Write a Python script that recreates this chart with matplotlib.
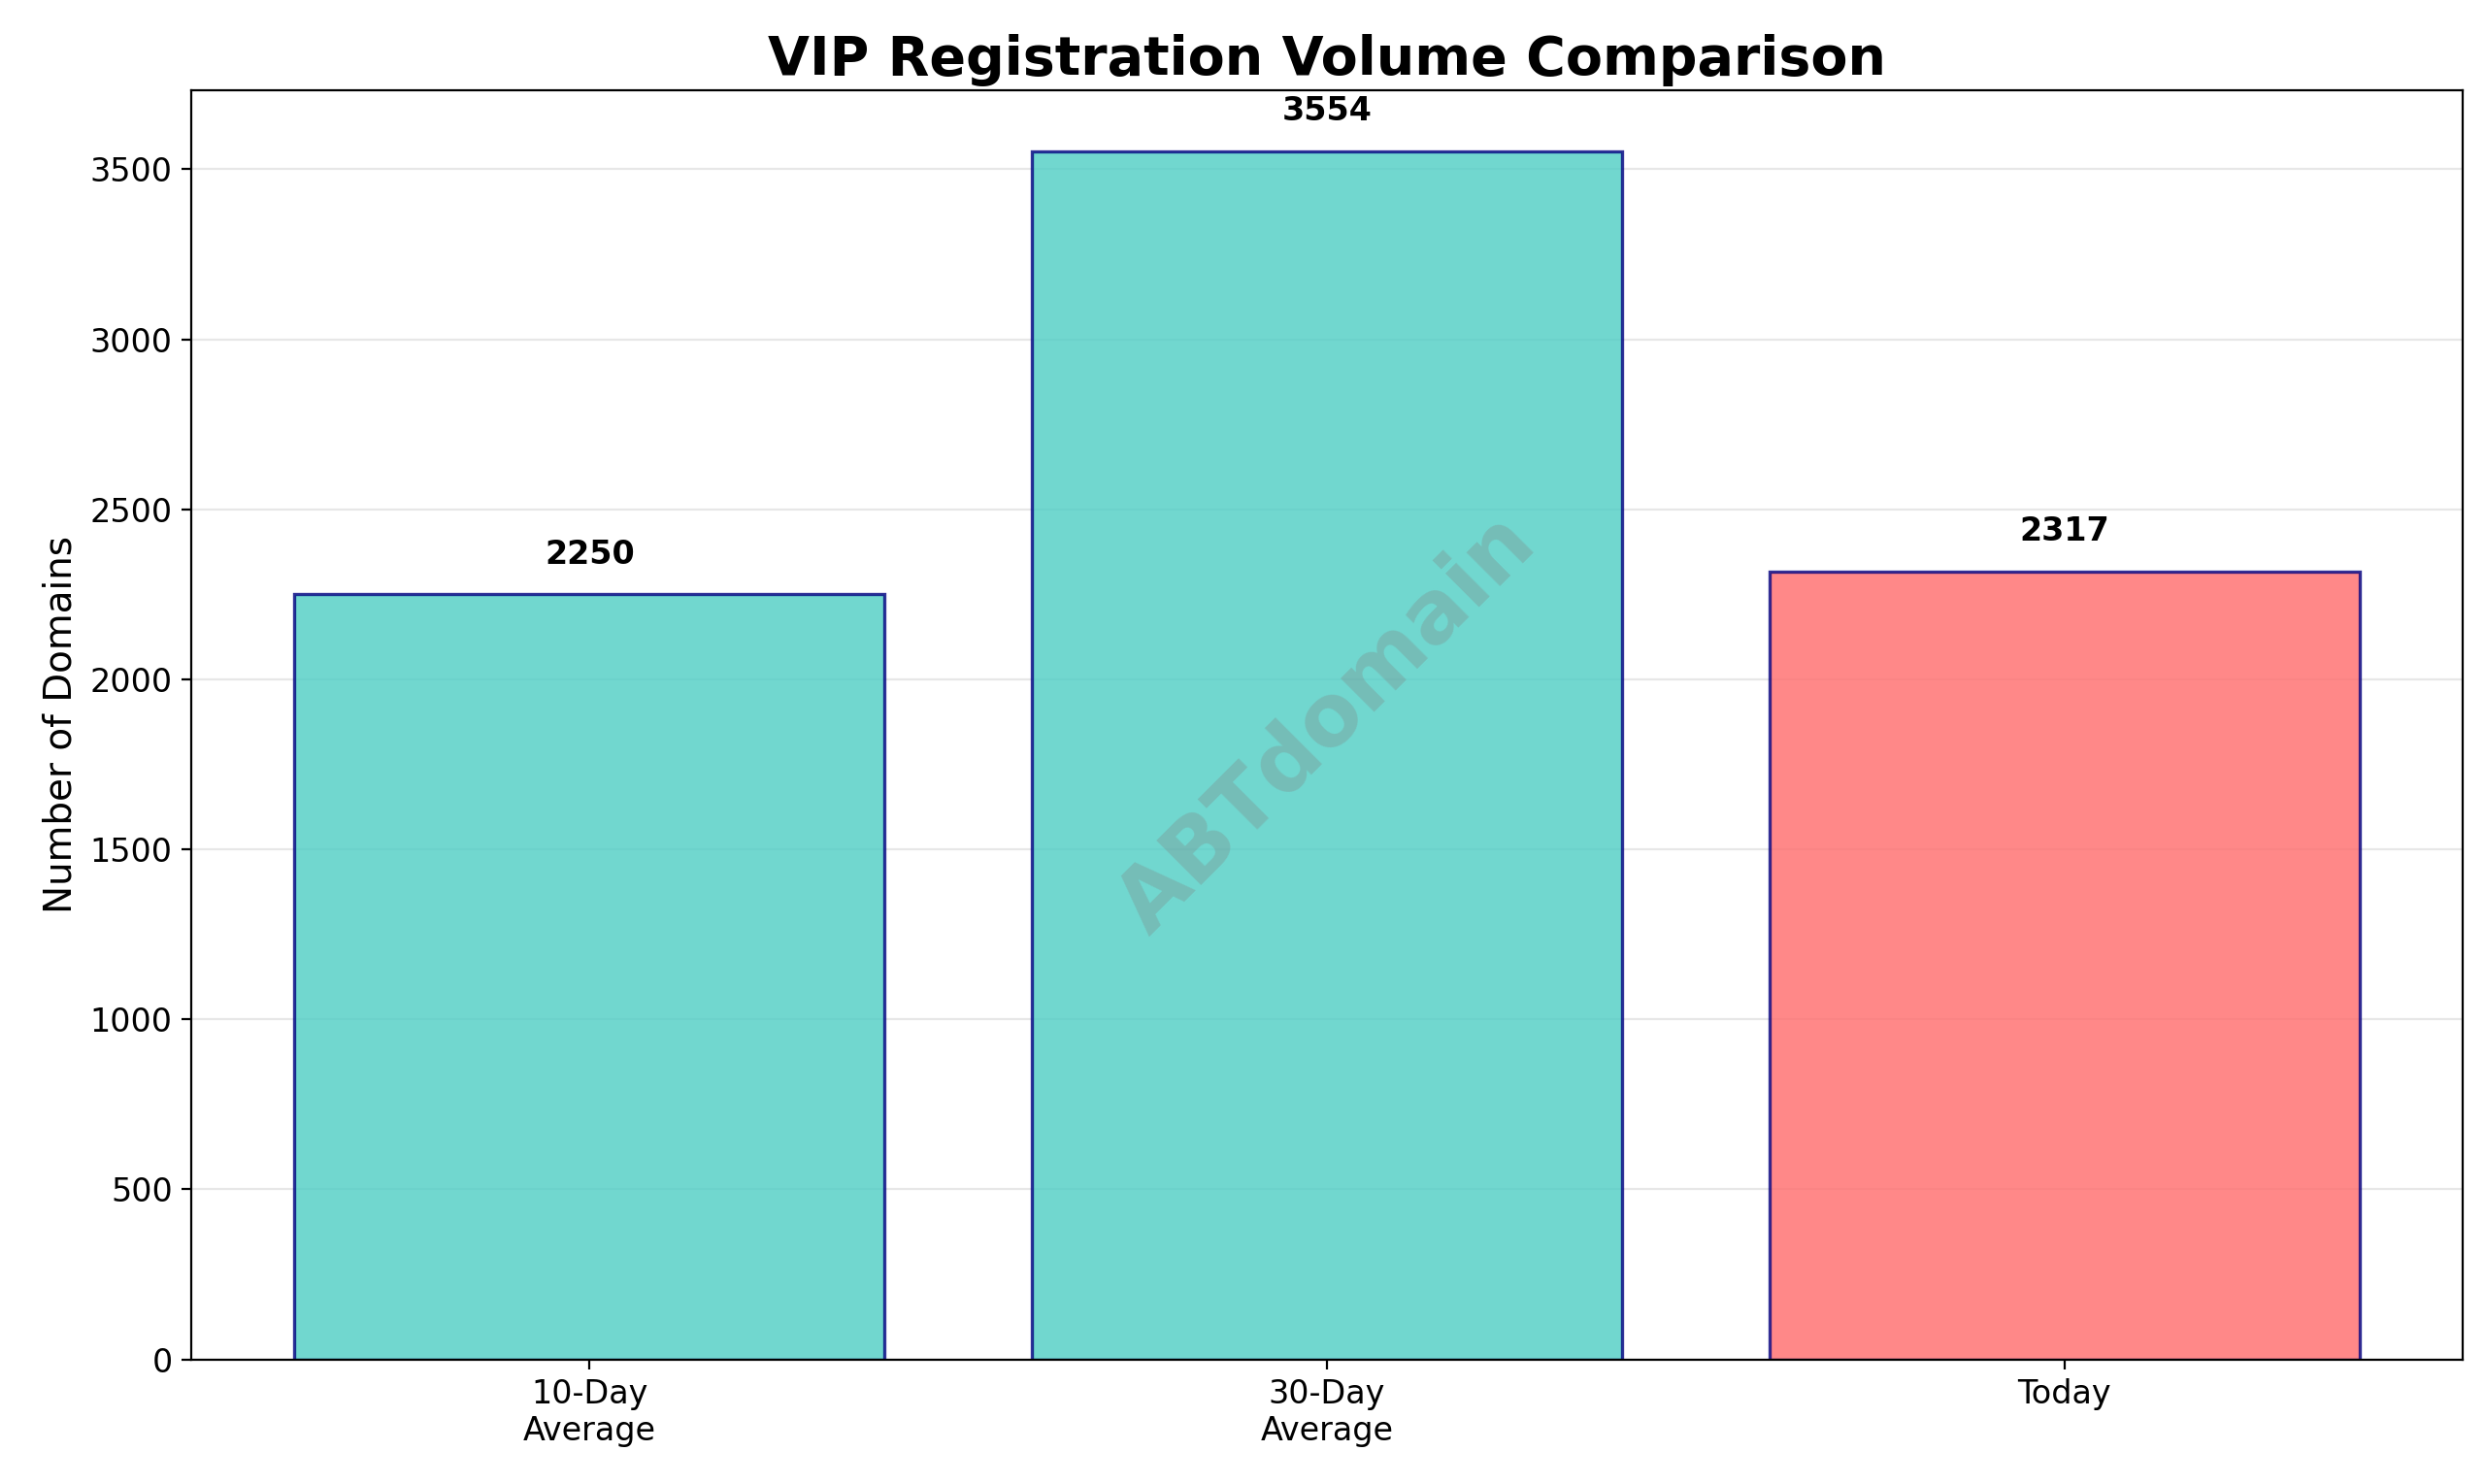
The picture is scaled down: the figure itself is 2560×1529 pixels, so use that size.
import matplotlib
matplotlib.use('Agg')
import matplotlib.pyplot as plt

categories = ['10-Day\nAverage', '30-Day\nAverage', 'Today']
values = [2250, 3554, 2317]
colors = ['#4ECDC4', '#4ECDC4', '#FF6B6B']

fig, ax = plt.subplots(figsize=(12.8, 7.645), dpi=200)
fig.subplots_adjust(left=0.077, right=0.991, top=0.939, bottom=0.084)

bars = ax.bar(categories, values, color=colors, alpha=0.8,
              edgecolor='navy', linewidth=1.2)
for b, v in zip(bars, values):
    ax.text(b.get_x() + b.get_width() / 2, v + 70, f'{v}',
            ha='center', va='bottom', fontweight='bold', fontsize=12)

ax.set_ylim(0, max(values) * 1.05)
ax.set_ylabel('Number of Domains', fontsize=14)
ax.set_title('VIP Registration Volume Comparison', fontsize=20, fontweight='bold')
ax.grid(axis='y', alpha=0.3)
ax.set_axisbelow(True)
ax.tick_params(labelsize=12)

ax.text(0.5, 0.5, 'ABTdomain', transform=ax.transAxes, fontsize=32,
        color='gray', alpha=0.3, ha='center', va='center', rotation=45,
        fontweight='bold')

fig.savefig('out.png')
